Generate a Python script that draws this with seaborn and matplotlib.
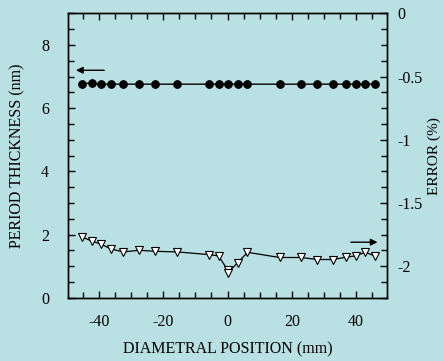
import numpy as np
import pandas as pd
import matplotlib
matplotlib.use("Agg")
import matplotlib.pyplot as plt
from matplotlib.ticker import MultipleLocator, FuncFormatter
import seaborn as sns

# ---- data ----
pos_thick = [-45.4, -42.3, -39.3, -36.3, -32.4, -27.5, -22.6, -15.6, -5.9, -2.8, 0.0,
             3.2, 6.2, 16.2, 22.9, 27.9, 32.8, 36.8, 39.8, 42.8, 45.8]
thickness = [6.78, 6.79, 6.76, 6.76, 6.76, 6.76, 6.76, 6.76, 6.76, 6.76, 6.76,
             6.76, 6.76, 6.76, 6.76, 6.76, 6.76, 6.76, 6.76, 6.76, 6.76]
pos_err = [-45.4, -42.3, -39.3, -36.3, -32.4, -27.5, -22.6, -15.6, -5.9, -2.8, 0.0, 0.0,
           3.2, 6.2, 16.2, 22.9, 27.9, 32.8, 36.8, 39.8, 42.8, 45.8]
error = [-1.768, -1.800, -1.826, -1.863, -1.887, -1.874, -1.882, -1.887, -1.908, -1.918,
         -2.029, -2.055, -1.971, -1.890, -1.931, -1.931, -1.947, -1.947, -1.929, -1.918,
         -1.890, -1.918]

df_t = pd.DataFrame({"pos": pos_thick, "val": thickness})
df_e = pd.DataFrame({"pos": pos_err, "val": error})

sns.set_theme(style="ticks")
plt.rcParams["font.family"] = ["Liberation Serif", "DejaVu Serif"]
plt.rcParams["axes.unicode_minus"] = False

bg = "#b9e0e3"
fig = plt.figure(figsize=(4.44, 3.61), dpi=100, facecolor=bg)
ax = fig.add_axes([0.154, 0.175, 0.717, 0.788])
ax.set_facecolor(bg)
ax2 = ax.twinx()

sns.lineplot(data=df_t, x="pos", y="val", ax=ax, sort=False, estimator=None,
             color="black", lw=1, marker="o", markersize=5.5, markeredgecolor="black",
             markerfacecolor="black")
sns.lineplot(data=df_e, x="pos", y="val", ax=ax2, sort=False, estimator=None,
             color="black", lw=0.9, marker="v", markersize=5.5, markeredgecolor="black",
             markerfacecolor="white", markeredgewidth=0.8)

ax.set_xlim(-49.5, 49.5)
ax.set_ylim(0, 9)
ax2.set_ylim(-2.25, 0)

ax.xaxis.set_major_locator(MultipleLocator(20))
ax.xaxis.set_minor_locator(MultipleLocator(5))
ax.yaxis.set_major_locator(MultipleLocator(2))
ax.yaxis.set_minor_locator(MultipleLocator(0.5))
ax2.yaxis.set_major_locator(MultipleLocator(0.5))
ax2.yaxis.set_minor_locator(MultipleLocator(0.125))
ax2.yaxis.set_major_formatter(FuncFormatter(lambda v, p: "%g" % v))
ax.yaxis.set_major_formatter(FuncFormatter(lambda v, p: "%g" % v))
ax.xaxis.set_major_formatter(FuncFormatter(lambda v, p: "%g" % v))

ax.tick_params(axis="x", which="both", direction="in", top=True, bottom=True,
               labelsize=11.5, colors="black", pad=12)
ax.tick_params(axis="y", which="both", direction="in", left=True, right=False,
               labelsize=11.5, colors="black", pad=14)
ax2.tick_params(axis="y", which="both", direction="in", right=True,
                labelsize=11.5, colors="black", pad=8)
for a in (ax, ax2):
    a.tick_params(which="major", length=5, width=1)
    a.tick_params(which="minor", length=4, width=1)
    for s in a.spines.values():
        s.set_color("black")
        s.set_linewidth(1)

ax.set_xlabel("DIAMETRAL POSITION (mm)", fontsize=11.5, color="black", labelpad=8)
ax.set_ylabel("PERIOD THICKNESS (nm)", fontsize=11.5, color="black", labelpad=11)
ax2.set_ylabel("ERROR (%)", fontsize=11, color="black", labelpad=3)

# direction arrows
ax.annotate("", xy=(-48, 7.2), xytext=(-37.5, 7.2),
            arrowprops=dict(arrowstyle="-|>", color="black", lw=1, mutation_scale=10))
ax2.annotate("", xy=(47.5, -1.81), xytext=(37.5, -1.81),
             arrowprops=dict(arrowstyle="-|>", color="black", lw=1, mutation_scale=10))

fig.savefig("out.png", dpi=100, facecolor=bg)
